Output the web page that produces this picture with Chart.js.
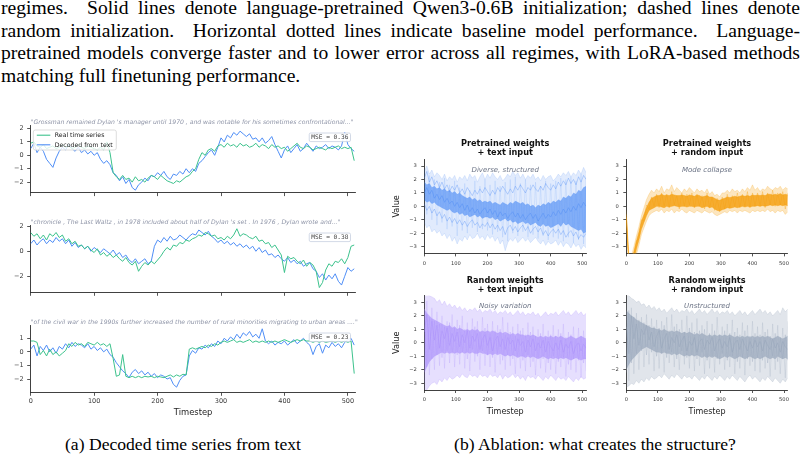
<!DOCTYPE html>
<html><head><meta charset="utf-8">
<script src="https://cdn.jsdelivr.net/npm/chart.js@4/dist/chart.umd.min.js"></script>
<style>
html,body{margin:0;padding:0;background:#fff;}
#fig{position:relative;width:807px;height:460px;overflow:hidden;background:#fff;}
.ln{position:absolute;left:1px;width:799px;font-family:'Liberation Serif',serif;font-size:19.6px;line-height:22.5px;color:#000;white-space:nowrap;}
.j{text-align:justify;text-align-last:justify;white-space:normal;}
.cap{position:absolute;width:320px;text-align:center;font-family:'Liberation Serif',serif;font-size:17.6px;line-height:20px;color:#000;white-space:nowrap;}
canvas{position:absolute;}
</style></head>
<body><div id="fig">
<div class="ln j" style="top:-3px">regimes.&nbsp; Solid lines denote language-pretrained Qwen3-0.6B initialization; dashed lines denote</div>
<div class="ln j" style="top:19.5px">random initialization.&nbsp; Horizontal dotted lines indicate baseline model performance.&nbsp; Language-</div>
<div class="ln j" style="top:42px">pretrained models converge faster and to lower error across all regimes, with LoRA-based methods</div>
<div class="ln" style="top:64.5px">matching full finetuning performance.</div>
<div class="cap" style="left:23px;top:433.5px">(a) Decoded time series from text</div>
<div class="cap" style="left:435px;top:433.5px">(b) Ablation: what creates the structure?</div>
</div>
<script>
// ---------------- DATA ----------------
const STEP_A = 5;   // timestep spacing of the left-panel samples
const STEP_B = 8;   // timestep spacing of the ablation samples
const X_TICKS = [0, 100, 200, 300, 400, 500];
const P1_YTICKS = [-2, -1, 0, 1, 2];
const P2_YTICKS = [-2, 0, 2];
const P3_YTICKS = [-2, -1, 0, 1];
const AB_YTICKS = [-3, -2, -1, 0, 1, 2, 3];

const P1_QUOTE = '"Grossman remained Dylan \'s manager until 1970 , and was notable for his sometimes confrontational..."';
const P2_QUOTE = '"chronicle , The Last Waltz , in 1978 included about half of Dylan \'s set . In 1976 , Dylan wrote and..."';
const P3_QUOTE = '"of the civil war in the 1990s further increased the number of rural minorities migrating to urban areas ...."';
const P1_MSE = 'MSE = 0.36', P2_MSE = 'MSE = 0.38', P3_MSE = 'MSE = 0.23';

const P1_REAL = [0.9,1.0,0.7,0.6,0.8,0.5,0.6,0.7,0.5,0.6,
 0.8,0.6,0.7,0.5,0.6,0.8,0.6,0.5,0.7,0.6,
 0.5,0.4,0.6,0.4,1.0,0.2,-1.3,-1.6,-1.8,-1.5,
 -1.8,-1.7,-2.0,-1.6,-1.9,-1.8,-2.0,-1.7,-1.5,-1.6,
 -1.8,-1.5,-1.7,-1.9,-2.0,-2.1,-1.9,-2.0,-1.8,-1.6,
 -1.5,-1.2,-1.0,-0.3,0.2,0.0,0.4,0.5,0.3,0.7,
 0.8,0.6,0.9,0.7,0.8,0.6,0.9,0.7,0.8,0.6,
 0.7,0.9,0.6,0.8,0.7,0.5,0.8,0.6,0.7,0.5,
 0.6,0.3,0.5,0.7,0.9,0.6,0.5,0.7,0.6,0.4,
 0.5,0.6,0.5,0.4,0.6,0.5,0.6,0.7,0.5,0.6,
 0.5,0.6,-0.4];
const P1_DEC = [0.5,0.9,0.2,0.6,0.3,-0.3,-0.6,-0.9,-0.2,0.3,
 0.6,0.4,0.8,0.5,0.3,0.6,0.2,0.4,0.1,0.3,
 0.0,0.2,-0.3,-0.6,-0.4,-0.7,-1.3,-1.5,-1.9,-1.6,
 -2.1,-1.8,-2.4,-2.6,-2.2,-2.0,-1.7,-1.9,-1.5,-1.6,
 -1.3,-1.5,-1.2,-1.6,-1.8,-1.4,-1.5,-1.2,-1.4,-1.0,
 -1.3,-1.0,-1.2,-0.6,-0.4,-0.1,0.2,0.4,0.0,0.6,
 1.3,1.0,1.5,1.3,1.7,1.5,1.8,1.6,1.4,1.6,
 1.2,1.3,1.0,1.3,0.9,1.1,1.4,0.8,0.3,-0.2,
 0.4,0.7,0.2,0.5,0.8,0.3,0.5,0.9,0.6,0.3,
 0.7,0.5,0.6,0.8,0.5,0.7,0.6,0.4,0.7,1.7,
 0.8,0.5,0.3];
const P2_REAL = [1.5,1.2,1.4,1.0,1.3,0.9,1.4,1.2,1.5,1.1,
 1.3,0.8,1.0,0.6,0.8,0.4,0.5,0.2,0.4,0.1,
 -0.1,0.2,-0.3,-0.1,-0.4,-0.2,-0.5,-0.3,-0.6,-0.8,
 -0.5,-0.9,-1.1,-0.8,-1.6,-1.2,-0.9,-1.1,-0.8,-1.0,
 -0.7,-0.4,0.0,0.3,0.1,0.5,0.4,0.7,0.6,0.9,
 0.8,1.0,1.1,1.3,1.2,1.5,1.4,1.2,1.3,1.0,
 1.1,0.9,1.2,1.0,1.3,1.8,1.2,1.4,1.3,1.1,
 1.0,1.2,0.8,0.9,0.6,0.7,0.3,0.5,0.1,-0.3,
 -1.7,-0.4,-0.6,-0.5,-0.8,-1.0,-0.7,-1.2,-0.9,-1.1,
 -1.6,-2.9,-2.5,-1.5,-1.0,-1.2,-0.8,-0.9,-0.6,-1.0,
 -0.5,0.4,0.5];
const P2_DEC = [0.6,0.9,0.5,0.8,1.0,0.6,0.9,0.7,1.1,0.8,
 1.0,0.6,0.9,0.4,0.7,0.3,0.5,0.2,0.4,0.0,
 0.3,0.1,-0.1,0.2,0.0,-0.2,0.1,-0.3,-0.1,-0.5,
 -0.3,-0.7,-0.9,-0.6,-1.0,-0.8,-0.6,-1.0,-0.8,0.4,
 0.9,0.7,1.1,0.8,1.2,0.9,1.0,1.3,1.1,0.9,
 1.2,1.4,1.3,1.7,1.5,1.3,1.6,1.2,1.0,0.7,
 0.9,0.6,0.8,0.5,0.7,0.4,0.6,0.3,0.5,0.2,
 0.4,0.0,0.3,-0.1,0.1,-0.3,-0.2,-0.5,-0.3,-0.6,
 -0.8,-0.5,-0.9,-0.7,-1.0,-0.8,-1.2,-1.0,-0.9,-1.4,
 -1.6,-2.1,-1.8,-2.3,-1.9,-2.2,-1.8,-2.4,-2.7,-2.0,
 -1.3,-1.6,-1.4];
const P3_REAL = [0.8,0.8,0.7,-0.2,0.1,-0.3,0.2,-0.2,0.0,-0.3,
 -0.1,0.1,0.6,0.4,0.7,0.5,0.6,0.4,0.7,0.6,
 0.5,0.7,0.5,0.6,0.4,0.6,-0.5,-1.8,-1.7,-0.2,
 -1.8,-1.9,-1.8,-1.9,-1.8,-1.9,-1.8,-1.85,-1.8,-1.9,
 -1.8,-1.85,-1.9,-1.8,-1.7,-1.85,-1.7,-1.8,-1.65,-1.7,
 0.2,0.3,0.2,0.3,0.4,0.3,0.5,0.4,0.6,0.5,
 0.7,0.8,0.7,0.8,0.9,0.7,0.8,0.7,0.8,0.9,
 0.7,0.8,0.7,0.8,0.7,0.8,0.7,0.8,0.7,0.8,
 0.9,0.8,0.7,0.8,0.9,0.8,0.9,0.8,0.8,0.7,
 0.8,0.7,0.8,0.7,0.75,0.8,0.7,0.8,0.7,0.8,
 0.7,0.8,-1.6];
const P3_DEC = [0.2,0.5,-0.3,0.4,0.1,0.5,0.0,0.3,-0.1,0.4,
 0.2,0.6,0.3,0.7,0.4,0.6,0.5,0.3,0.6,0.2,
 0.4,0.1,0.3,0.0,0.2,-0.2,-0.4,-0.8,-1.1,-1.4,
 -1.6,-1.9,-1.5,-1.3,-1.6,-1.4,-1.7,-1.5,-1.8,-1.6,
 -1.9,-1.7,-1.8,-2.0,-1.9,-2.4,-2.6,-2.1,-1.8,-1.7,
 -0.3,0.1,-0.1,0.3,0.2,0.5,0.3,0.6,0.4,0.8,
 0.6,1.0,0.8,1.1,0.9,1.3,1.0,1.4,1.2,1.5,
 1.1,1.3,1.0,1.7,0.8,0.6,0.8,0.5,0.7,0.6,
 0.8,0.5,0.7,0.9,0.6,0.8,1.0,0.7,0.5,-0.2,
 0.4,0.6,-0.1,0.5,0.3,0.7,0.4,0.6,0.3,0.7,
 0.9,1.0,0.5];

// Ablation panels: envelope (outer), dense core, and a few single trajectories
const PT_OUT_HI = [2.6,3.0,2.4,2.7,2.2,2.5,2.3,2.0,2.4,1.9,2.2,2.0,2.3,
 1.8,2.2,2.0,2.3,1.9,2.4,2.1,2.3,1.8,2.2,2.5,2.0,2.4,
 2.1,2.5,2.2,2.0,2.3,1.9,2.1,2.4,2.2,2.6,2.3,2.5,2.1,
 2.4,2.0,2.3,2.1,2.4,2.0,2.2,1.9,2.3,2.0,2.2,2.3,1.9,
 2.1,2.4,2.2,2.5,2.3,2.6,2.2,2.5,2.3,2.7,2.4,2.9,2.5];
const PT_OUT_LO = [-1.2,-1.6,-1.4,-1.9,-1.7,-2.0,-1.8,-2.2,-2.0,-2.4,-2.1,-2.6,-2.3,
 -2.8,-2.4,-2.6,-2.2,-2.5,-2.1,-2.4,-2.3,-2.0,-2.4,-2.2,-2.5,-2.1,
 -2.4,-2.2,-2.6,-2.3,-2.8,-2.5,-3.3,-2.7,-2.4,-2.6,-2.3,-2.7,-2.5,
 -2.3,-2.6,-2.4,-2.7,-2.5,-2.3,-2.6,-2.8,-2.5,-2.9,-2.6,-2.8,-2.7,
 -2.5,-2.9,-2.6,-3.0,-2.7,-2.8,-3.1,-2.7,-3.0,-2.8,-3.2,-2.9,-3.1];
const PT_CORE_HI = [1.8,1.6,1.7,1.4,1.5,1.3,1.4,1.2,1.3,1.1,1.2,1.0,1.1,
 0.9,1.0,0.8,0.7,0.6,0.7,0.5,0.6,0.4,0.5,0.3,0.4,0.3,
 0.4,0.2,0.3,0.2,0.1,0.3,0.2,0.1,0.3,0.2,0.4,0.3,0.2,
 0.3,0.1,0.2,0.0,0.1,-0.1,0.1,0.0,0.2,0.1,0.3,0.2,0.4,
 0.3,0.5,0.4,0.7,0.6,0.8,0.7,1.0,0.9,1.2,1.1,1.4,1.5];
const PT_CORE_LO = [0.5,0.3,0.4,0.2,0.3,0.1,0.0,-0.1,-0.2,-0.3,-0.2,-0.4,-0.5,
 -0.4,-0.6,-0.5,-0.7,-0.6,-0.8,-0.7,-0.6,-0.8,-0.7,-0.9,-0.8,-0.8,
 -0.9,-0.8,-1.0,-0.9,-1.1,-1.0,-0.9,-1.1,-1.0,-1.2,-1.1,-1.3,-1.2,
 -1.1,-1.3,-1.2,-1.4,-1.3,-1.2,-1.4,-1.5,-1.3,-1.5,-1.4,-1.6,-1.5,
 -1.4,-1.3,-1.5,-1.2,-1.4,-1.3,-1.5,-1.6,-1.7,-1.8,-1.7,-2.0,-1.9];
const PT_LINE_A = [2.1,2.6,1.8,2.2,1.6,1.9,1.4,1.8,1.3,1.6,1.1,1.5,1.2,
 1.6,1.0,1.3,0.9,1.4,1.1,0.8,1.2,0.9,1.3,1.0,1.4,1.1,
 0.8,1.2,0.9,1.4,1.1,1.5,1.2,0.9,1.3,1.0,1.5,1.2,1.6,
 1.3,1.0,1.4,1.2,1.6,1.3,1.1,1.5,1.2,1.7,1.4,1.2,1.6,
 1.3,1.8,1.5,1.9,1.6,2.1,1.7,2.0,1.6,2.2,1.8,2.3,2.0];
const PT_LINE_B = [1.0,1.4,0.9,1.2,0.6,0.9,0.5,0.8,0.3,0.6,0.2,0.4,0.0,
 0.3,-0.1,0.2,-0.3,0.1,-0.4,-0.1,-0.5,-0.2,-0.6,-0.3,-0.1,-0.5,
 -0.2,-0.6,-0.3,-0.8,-0.4,-0.7,-0.5,-0.9,-0.6,-0.4,-0.8,-0.5,-0.9,
 -0.6,-1.0,-0.7,-0.5,-0.9,-0.6,-1.1,-0.8,-0.5,-0.9,-0.6,-0.8,-0.4,
 -0.7,-0.3,-0.6,-0.2,-0.5,-0.1,-0.4,0.0,-0.3,0.2,-0.1,0.3,0.0];
const PT_LINE_C = [0.2,-0.3,0.0,-0.5,-0.2,-0.7,-0.4,-0.9,-0.6,-1.1,-0.8,-1.2,-0.9,
 -1.3,-1.0,-1.4,-1.1,-1.5,-1.2,-1.0,-1.4,-1.2,-1.6,-1.3,-1.5,-1.2,
 -1.6,-1.3,-1.7,-1.4,-1.8,-1.5,-2.1,-1.6,-1.4,-1.8,-1.5,-1.9,-1.6,
 -1.4,-1.8,-1.5,-2.0,-1.7,-1.5,-1.9,-1.6,-2.1,-1.8,-2.2,-1.9,-1.7,
 -2.0,-1.7,-2.1,-1.8,-2.3,-2.0,-1.8,-2.2,-1.9,-2.4,-2.1,-2.3,-2.0];
const PT_LINE_D = [2.8,-0.6,2.3,-1.0,2.0,-1.4,1.8,-1.2,2.1,-1.7,1.6,-1.5,1.9,
 -2.2,1.4,-1.8,1.7,-2.0,1.2,-1.6,1.9,-1.9,1.5,-1.7,2.0,-1.8,
 1.6,-2.1,1.9,-1.9,1.5,-2.3,1.8,-2.6,2.0,-2.0,2.2,-2.2,1.7,
 -1.9,2.0,-2.3,1.6,-2.1,1.8,-2.4,1.5,-2.2,1.9,-2.5,1.7,-2.3,
 1.9,-2.4,2.1,-2.6,2.0,-2.3,2.2,-2.7,1.9,-2.5,2.4,-2.8,2.2];

const PR_OUT_HI = [-0.3,-3.6,-3.7,-3.0,-2.2,-1.5,-0.7,-0.1,0.5,0.9,1.2,1.0,1.3,
 1.1,1.5,1.0,1.3,1.2,1.6,1.1,1.4,1.2,1.0,1.3,1.1,1.4,
 1.2,1.0,1.3,1.1,1.2,1.0,1.3,0.9,1.1,0.8,0.9,0.7,1.0,
 1.0,1.2,1.0,1.3,1.1,1.2,1.0,1.3,1.1,1.4,1.2,1.6,1.2,
 1.4,1.1,1.3,1.2,1.5,1.3,1.2,1.4,1.3,1.5,1.2,1.4,1.3];
const PR_OUT_LO = [-1.0,-4.5,-4.5,-4.3,-3.6,-2.9,-2.1,-1.6,-1.1,-0.7,-0.5,-0.4,-0.3,
 -0.4,-0.2,-0.5,-0.3,-0.4,-0.2,-0.5,-0.3,-0.4,-0.2,-0.4,-0.5,-0.3,
 -0.4,-0.5,-0.3,-0.4,-0.5,-0.3,-0.4,-0.5,-0.4,-0.6,-0.7,-0.6,-0.5,
 -0.4,-0.5,-0.3,-0.4,-0.3,-0.5,-0.3,-0.4,-0.3,-0.4,-0.5,-0.3,-0.4,
 -0.3,-0.4,-0.3,-0.4,-0.2,-0.4,-0.3,-0.5,-0.3,-0.4,-0.3,-0.6,-0.4];
const PR_CORE_HI = [-0.6,-3.9,-4.0,-3.4,-2.6,-1.9,-1.1,-0.6,-0.1,0.3,0.6,0.7,0.8,
 0.8,0.9,0.8,0.85,0.8,0.9,0.85,0.8,0.8,0.85,0.8,0.75,0.85,
 0.8,0.75,0.85,0.8,0.7,0.75,0.8,0.7,0.7,0.6,0.5,0.45,0.55,
 0.6,0.7,0.65,0.7,0.75,0.7,0.75,0.8,0.75,0.8,0.75,0.85,0.8,
 0.85,0.8,0.85,0.8,0.9,0.9,0.85,0.9,0.85,0.95,0.85,0.9,0.85];
const PR_CORE_LO = [-0.9,-4.4,-4.4,-4.0,-3.2,-2.5,-1.7,-1.2,-0.7,-0.3,-0.2,-0.1,0.0,
 0.0,-0.05,-0.1,0.0,-0.05,0.0,0.05,0.0,-0.05,0.0,0.0,-0.05,0.0,
 0.0,-0.05,0.0,0.0,-0.1,-0.05,0.0,-0.1,-0.05,-0.2,-0.3,-0.35,-0.25,
 -0.2,-0.1,-0.15,-0.1,-0.05,-0.1,-0.05,0.0,-0.05,0.0,-0.05,0.0,0.0,
 0.05,0.0,0.05,0.0,0.05,0.1,0.05,0.1,0.05,0.1,0.05,0.1,0.05];
const PR_LINE = [-0.8,-4.0,-4.2,-3.5,-2.6,-2.4,-1.0,-1.1,0.1,-0.2,0.7,0.0,0.9,
 -0.1,1.0,0.0,0.9,-0.1,1.1,0.1,0.8,-0.2,1.0,0.0,0.9,0.1,
 1.0,-0.1,0.9,0.0,0.8,-0.2,1.0,-0.1,0.7,-0.3,0.6,-0.4,0.7,
 -0.2,0.9,-0.1,0.8,0.0,1.0,-0.1,0.9,0.0,1.1,-0.1,1.0,0.0,
 1.0,0.0,1.1,-0.1,1.0,0.1,1.2,0.0,1.0,0.1,1.1,-0.2,1.0];

const RT_OUT_HI = [3.6,3.6,3.5,3.4,3.3,3.0,3.2,2.8,3.1,2.7,2.9,2.6,2.8,
 2.5,2.7,2.4,2.6,2.3,2.5,2.4,2.6,2.3,2.5,2.2,2.4,2.3,
 2.5,2.2,2.4,2.1,2.3,2.2,2.4,2.1,2.3,2.0,2.2,2.4,2.1,
 2.3,2.0,2.2,2.1,2.3,2.0,2.2,1.9,2.1,2.3,2.0,2.2,2.1,
 2.3,2.0,2.2,2.4,2.1,2.3,2.0,2.2,2.4,2.1,2.3,2.0,2.2];
const RT_OUT_LO = [-3.6,-3.5,-3.2,-3.0,-2.9,-3.1,-2.7,-2.9,-2.6,-2.8,-2.5,-2.7,-2.6,
 -2.4,-2.6,-2.3,-2.5,-2.6,-2.3,-2.5,-2.4,-2.6,-2.3,-2.5,-2.4,-2.6,
 -2.3,-2.5,-2.4,-2.6,-2.3,-2.7,-2.4,-2.6,-2.5,-2.3,-2.6,-2.4,-2.7,
 -2.5,-2.8,-2.4,-2.6,-2.5,-2.7,-2.4,-2.6,-2.8,-2.5,-2.7,-2.4,-2.6,
 -2.8,-2.5,-2.7,-2.6,-2.8,-2.5,-2.7,-2.9,-2.6,-2.8,-2.5,-2.7,-2.6];
const RT_CORE_HI = [2.5,2.2,2.0,1.8,1.7,1.6,1.5,1.4,1.3,1.2,1.3,1.1,1.2,
 1.0,1.1,1.0,0.9,1.0,0.9,1.0,0.9,1.0,0.8,0.9,0.8,0.9,
 0.8,0.9,0.8,0.7,0.8,0.7,0.8,0.7,0.6,0.7,0.6,0.7,0.6,
 0.6,0.5,0.6,0.5,0.6,0.5,0.4,0.5,0.4,0.5,0.4,0.5,0.4,
 0.5,0.4,0.5,0.4,0.3,0.4,0.5,0.4,0.3,0.4,0.5,0.4,0.3];
const RT_CORE_LO = [-2.2,-1.8,-1.4,-1.2,-1.0,-0.9,-0.8,-0.7,-0.8,-0.7,-0.8,-0.7,-0.8,
 -0.7,-0.8,-0.7,-0.8,-0.7,-0.8,-0.7,-0.8,-0.8,-0.7,-0.8,-0.8,-0.9,
 -0.8,-0.9,-0.8,-0.9,-0.8,-0.9,-1.0,-0.9,-1.0,-0.9,-1.0,-1.1,-1.0,
 -1.0,-1.1,-1.0,-1.1,-1.0,-1.1,-1.2,-1.1,-1.0,-1.1,-1.2,-1.1,-1.2,
 -1.1,-1.2,-1.1,-1.2,-1.1,-1.2,-1.3,-1.2,-1.1,-1.2,-1.3,-1.2,-1.2];
const RT_LINE = [0.8,2.1,-0.5,1.6,0.2,1.3,-0.4,0.9,0.3,1.1,-0.2,0.7,0.1,
 0.8,-0.3,0.6,0.0,0.9,-0.4,0.5,0.1,0.7,-0.5,0.3,0.6,-0.2,
 0.4,-0.6,0.2,0.5,-0.3,0.3,-0.5,0.4,-0.1,0.2,-0.6,0.3,-0.2,
 0.1,-0.7,0.2,-0.3,0.3,-0.6,0.0,-0.4,0.2,-0.7,0.1,-0.3,-0.6,
 0.0,-0.5,0.2,-0.7,-0.1,-0.4,0.1,-0.8,-0.2,0.0,-0.6,-0.1,-0.4];
const RT_LINE2 = [2.5,-1.8,1.9,-1.2,1.6,-0.9,1.4,-1.1,1.2,-0.6,1.5,-0.8,1.1,
 -0.9,1.3,-0.7,1.0,-1.2,0.9,-0.5,1.2,-1.0,0.8,-0.6,1.1,-0.9,
 0.7,-1.1,0.9,-0.8,1.0,-1.3,0.6,-0.9,0.8,-1.2,0.5,-1.0,0.9,
 -1.3,0.6,-0.9,0.8,-1.4,0.5,-1.1,0.7,-1.2,0.4,-1.5,0.6,-1.0,
 0.5,-1.4,0.7,-1.1,0.4,-1.6,0.6,-1.2,0.3,-1.3,0.5,-1.5,0.2];
const RT_LINE3 = [-2.9,3.1,-2.4,2.6,-2.0,2.3,-1.7,2.0,-1.9,1.6,-1.5,2.1,-1.8,
 1.7,-1.6,2.0,-1.9,1.5,-2.1,1.8,-1.4,1.6,-2.0,1.9,-1.7,1.4,
 -1.8,1.6,-2.2,1.3,-1.6,1.9,-2.0,1.5,-1.7,1.2,-2.3,1.4,-1.9,
 1.1,-2.1,1.5,-1.8,1.2,-2.4,1.0,-1.9,1.4,-2.2,0.9,-2.0,1.3,
 -2.3,1.0,-1.8,1.4,-2.5,0.8,-2.0,1.2,-2.2,1.1,-2.6,0.9,-2.1];

const RR_OUT_HI = [3.5,3.5,3.3,3.2,3.0,3.1,2.8,2.9,2.6,2.8,2.5,2.7,2.4,
 2.6,2.3,2.5,2.2,2.4,2.6,2.3,2.5,2.2,2.4,2.3,2.5,2.2,
 2.4,2.1,2.3,2.5,2.2,2.4,2.1,2.3,2.5,2.2,2.4,2.1,2.3,
 2.2,2.4,2.1,2.3,2.0,2.2,2.4,2.1,2.3,2.0,2.2,2.4,2.1,
 2.3,2.5,2.2,2.4,2.1,2.3,2.0,2.2,2.4,2.1,2.6,2.3,2.5];
const RR_OUT_LO = [-3.3,-3.2,-3.0,-3.1,-2.8,-3.0,-2.7,-2.9,-2.6,-2.8,-2.5,-2.7,-2.6,
 -2.4,-2.6,-2.3,-2.5,-2.7,-2.4,-2.6,-2.3,-2.5,-2.7,-2.4,-2.6,-2.5,
 -2.7,-2.4,-2.6,-2.8,-2.5,-2.7,-2.4,-2.6,-2.8,-2.5,-2.7,-2.4,-2.6,
 -2.8,-2.5,-2.7,-2.4,-2.6,-2.8,-2.5,-2.7,-2.9,-2.6,-2.4,-2.7,-2.5,
 -2.7,-2.9,-2.6,-2.8,-2.5,-2.7,-2.9,-2.6,-2.8,-3.0,-2.7,-2.9,-2.6];
const RR_CORE_HI = [2.4,2.2,2.0,1.9,1.7,1.6,1.5,1.4,1.3,1.2,1.1,1.1,1.0,
 1.0,0.9,1.0,0.9,0.8,0.9,0.8,0.9,0.8,0.7,0.8,0.7,0.8,
 0.7,0.6,0.7,0.6,0.7,0.6,0.5,0.6,0.5,0.6,0.5,0.6,0.5,
 0.6,0.5,0.6,0.5,0.4,0.5,0.4,0.5,0.4,0.5,0.4,0.5,0.4,
 0.5,0.4,0.5,0.4,0.5,0.4,0.3,0.4,0.5,0.4,0.3,0.4,0.5];
const RR_CORE_LO = [-2.0,-1.6,-1.3,-1.1,-0.9,-0.7,-0.5,-0.4,-0.3,-0.4,-0.5,-0.6,-0.7,
 -0.7,-0.8,-0.7,-0.8,-0.8,-0.9,-0.8,-0.9,-0.8,-0.9,-1.0,-0.9,-1.0,
 -0.9,-1.0,-0.9,-1.0,-1.1,-1.0,-1.1,-1.0,-1.1,-1.0,-1.1,-1.2,-1.1,
 -1.0,-1.1,-1.0,-1.1,-1.2,-1.1,-1.0,-1.1,-1.2,-1.1,-1.0,-1.1,-1.2,
 -1.1,-1.2,-1.1,-1.0,-1.1,-1.2,-1.1,-1.2,-1.0,-1.1,-1.2,-1.1,-1.2];
const RR_LINE = [1.2,-0.8,2.0,0.3,1.4,-0.2,1.0,0.6,1.3,0.2,0.8,-0.3,0.5,
 0.9,-0.4,0.3,0.7,-0.5,0.4,0.0,0.6,-0.3,0.2,0.5,-0.6,0.1,
 -0.2,0.4,-0.7,0.1,0.3,-0.5,0.2,-0.1,0.4,-0.6,0.0,0.3,-0.4,
 0.1,-0.3,0.4,-0.7,0.0,0.2,-0.5,0.3,-0.2,-0.6,0.1,-0.4,0.2,
 -0.3,0.1,-0.6,0.2,-0.2,-0.5,0.3,-0.4,0.0,-0.7,0.1,-0.3,-0.5];
const RR_LINE2 = [-2.2,2.4,-1.5,1.9,-0.8,1.7,-0.6,1.5,-0.9,1.3,-0.7,1.2,-1.0,
 1.1,-0.8,1.3,-1.1,0.9,-0.7,1.2,-1.2,1.0,-0.6,0.8,-1.1,1.1,
 -0.9,0.8,-1.2,0.9,-0.7,1.0,-1.3,0.7,-1.0,0.9,-1.2,0.6,-0.8,
 0.9,-1.3,0.7,-1.0,0.8,-1.4,0.6,-1.1,0.9,-1.2,0.5,-1.4,0.7,
 -1.1,0.6,-1.3,0.8,-1.5,0.5,-1.0,0.7,-1.4,0.4,-1.2,0.6,-1.3];
const RR_LINE3 = [3.0,-2.8,2.6,-2.3,2.2,-2.0,1.9,-1.8,2.1,-1.6,1.8,-2.1,1.7,
 -1.9,1.6,-2.2,1.9,-1.5,2.1,-1.8,1.4,-2.0,1.7,-1.6,2.0,-1.9,
 1.5,-2.1,1.8,-1.7,1.3,-2.3,1.6,-1.9,1.4,-2.2,1.9,-1.6,1.2,
 -2.0,1.4,-1.8,1.7,-2.3,1.1,-1.9,1.5,-2.4,1.3,-1.7,1.6,-2.1,
 1.2,-2.2,1.5,-1.9,1.0,-2.5,1.4,-2.0,1.3,-2.3,1.1,-2.6,1.6];

// ---------------- STYLE / LAYOUT ----------------
const GREEN = '#3cc28c', BLUE = '#4f8ef6';
const AX = '#2b2b2b', TX = '#3a3a3a';
const FIG = document.getElementById('fig');

function pts(arr, step) { return arr.map((v, i) => ({x: i * step, y: v})); }
function fmt(v) { return v < 0 ? '\u2212' + (-v) : String(v); }
function canvasAt(box) {
  const c = document.createElement('canvas');
  c.width = box.w; c.height = box.h;
  c.style.left = box.l + 'px'; c.style.top = box.t + 'px';
  c.style.width = box.w + 'px'; c.style.height = box.h + 'px';
  FIG.appendChild(c); return c;
}

const decor = {
  id: 'decor',
  afterDraw(chart, args, o) {
    const ctx = chart.ctx, a = chart.chartArea;
    const cx = (a.left + a.right) / 2;
    ctx.save();
    ctx.textBaseline = 'middle';
    if (o.title) {
      ctx.font = 'bold 8.2px "DejaVu Sans"'; ctx.fillStyle = '#111'; ctx.textAlign = 'center';
      ctx.fillText(o.title[0], cx, a.top - 15.1);
      ctx.fillText(o.title[1], cx, a.top - 6.2);
    }
    if (o.note) {
      ctx.font = 'italic 7px "DejaVu Sans"'; ctx.fillStyle = '#6b7385'; ctx.textAlign = 'center';
      ctx.fillText(o.note, cx, a.top + 10.6);
    }
    if (o.ytitle) {
      ctx.save(); ctx.translate(a.left - 27, (a.top + a.bottom) / 2); ctx.rotate(-Math.PI / 2);
      ctx.font = '8.2px "DejaVu Sans"'; ctx.fillStyle = '#222'; ctx.textAlign = 'center';
      ctx.fillText(o.ytitle, 0, 0); ctx.restore();
    }
    if (o.xtitle) {
      ctx.font = o.xsize + 'px "DejaVu Sans"'; ctx.fillStyle = '#222'; ctx.textAlign = 'center';
      ctx.fillText(o.xtitle, cx, a.bottom + o.xoff);
    }
    if (o.quote) {
      ctx.font = 'italic 6.1px "DejaVu Sans"'; ctx.fillStyle = '#8d93a6'; ctx.textAlign = 'left';
      ctx.fillText(o.quote, a.left, a.top - 3);
    }
    if (o.mse) {
      ctx.font = '6.2px "DejaVu Sans Mono"';
      const w = ctx.measureText(o.mse).width + 4, h = 8.6;
      const x = a.right - 5 - w, y = a.top + 8;
      ctx.beginPath(); ctx.roundRect(x, y, w, h, 1.5);
      ctx.fillStyle = 'rgba(255,255,255,0.9)'; ctx.fill();
      ctx.strokeStyle = '#c6cfdf'; ctx.lineWidth = 0.8; ctx.stroke();
      ctx.fillStyle = '#444'; ctx.textAlign = 'center';
      ctx.fillText(o.mse, x + w / 2, y + h / 2 + 0.3);
    }
    if (o.legend) {
      const x = a.left + 2.6, y = a.top + 5, w = 83, h = 20;
      ctx.beginPath(); ctx.roundRect(x, y, w, h, 2);
      ctx.fillStyle = 'rgba(255,255,255,0.8)'; ctx.fill();
      ctx.strokeStyle = '#d4d4d4'; ctx.lineWidth = 0.8; ctx.stroke();
      ctx.font = '6.2px "DejaVu Sans"'; ctx.textAlign = 'left';
      o.legend.forEach((it, i) => {
        const yy = y + 5.2 + i * 9.6;
        ctx.strokeStyle = it.color; ctx.lineWidth = 1.1;
        ctx.beginPath(); ctx.moveTo(x + 3.5, yy); ctx.lineTo(x + 17, yy); ctx.stroke();
        ctx.fillStyle = '#222'; ctx.fillText(it.label, x + 21.5, yy + 0.3);
      });
    }
    ctx.restore();
  }
};

function makeChart(box, area, datasets, o) {
  const c = canvasAt(box);
  const grid = {display: true, drawOnChartArea: false, drawTicks: true, tickLength: o.tl, color: AX, tickColor: AX, lineWidth: 0.8};
  return new Chart(c, {
    type: 'line',
    data: {datasets},
    plugins: [decor],
    options: {
      responsive: false, animation: false, devicePixelRatio: 1,
      layout: {padding: {left: 0, top: area.t - box.t, right: box.l + box.w - area.r, bottom: 0}},
      elements: {point: {radius: 0}, line: {tension: 0}},
      plugins: {legend: {display: false}, tooltip: {enabled: false}, decor: o.decor},
      scales: {
        x: {type: 'linear', min: 0, max: 512,
            afterBuildTicks: s => { s.ticks = X_TICKS.map(v => ({value: v})); },
            afterFit: s => { s.height = box.t + box.h - area.b; },
            grid, border: {display: true, color: AX, width: 0.9},
            ticks: {display: o.xlab, autoSkip: false, maxRotation: 0, padding: o.xpad, color: TX,
                    font: {family: 'DejaVu Sans', size: o.fs}, callback: v => fmt(v)}},
        y: {type: 'linear', min: o.ymin, max: o.ymax,
            afterBuildTicks: s => { s.ticks = o.yt.map(v => ({value: v})); },
            afterFit: s => { s.width = area.l - box.l; },
            grid, border: {display: true, color: AX, width: 0.9},
            ticks: {autoSkip: false, padding: o.ypad, color: TX,
                    font: {family: 'DejaVu Sans', size: o.fs}, callback: v => fmt(v)}}
      }
    }
  });
}

function seriesPair(real, dec) {
  return [
    {data: pts(real, STEP_A), borderColor: GREEN, borderWidth: 1.0, fill: false},
    {data: pts(dec, STEP_A), borderColor: BLUE, borderWidth: 1.0, fill: false}
  ];
}
function band(hi, lo, rgb, fillA, lineA) {
  return [
    {data: pts(hi, STEP_B), borderColor: `rgba(${rgb},${lineA})`, borderWidth: 0.7, backgroundColor: `rgba(${rgb},${fillA})`, fill: '+1'},
    {data: pts(lo, STEP_B), borderColor: `rgba(${rgb},${lineA})`, borderWidth: 0.7, fill: false}
  ];
}
function traj(arr, rgb, a, w) {
  return {data: pts(arr, STEP_B), borderColor: `rgba(${rgb},${a})`, borderWidth: w || 0.8, fill: false};
}

// ---------------- LEFT: decoded series ----------------
const leftOpt = (ymin, ymax, yt, xlab, decorOpt) => ({ymin, ymax, yt, xlab, fs: 6.5, tl: 3.5, xpad: 2, ypad: 3.5, decor: decorOpt});
makeChart({l: 0, t: 112, w: 372, h: 88}, {l: 30.7, t: 125, r: 355.5, b: 192.7},
  seriesPair(P1_REAL, P1_DEC),
  leftOpt(-2.78, 2.26, P1_YTICKS, false, {quote: P1_QUOTE, mse: P1_MSE,
    legend: [{label: 'Real time series', color: GREEN}, {label: 'Decoded from text', color: BLUE}]}));
makeChart({l: 0, t: 212, w: 372, h: 88}, {l: 30.7, t: 225, r: 355.5, b: 292.3},
  seriesPair(P2_REAL, P2_DEC),
  leftOpt(-3.28, 2.1, P2_YTICKS, false, {quote: P2_QUOTE, mse: P2_MSE}));
makeChart({l: 0, t: 312, w: 372, h: 110}, {l: 30.7, t: 325, r: 355.5, b: 392.3},
  seriesPair(P3_REAL, P3_DEC),
  leftOpt(-2.98, 1.98, P3_YTICKS, true, {quote: P3_QUOTE, mse: P3_MSE, xtitle: 'Timestep', xsize: 8.4, xoff: 21}));

// ---------------- RIGHT: ablation ----------------
const abOpt = (decorOpt) => ({ymin: -3.5, ymax: 3.5, yt: AB_YTICKS, xlab: true, fs: 5.2, tl: 3, xpad: 4, ypad: 4.5, decor: decorOpt});
const C_BLUE = '66,133,244', C_ORANGE = '245,158,11', C_PURPLE = '167,139,250', C_GREY = '148,163,184';
makeChart({l: 386, t: 132, w: 208, h: 140}, {l: 424.3, t: 159.3, r: 586.1, b: 253.4},
  [...band(PT_OUT_HI, PT_OUT_LO, C_BLUE, 0.16, 0.2), traj(PT_LINE_D, C_BLUE, 0.18, 0.7),
   ...band(PT_CORE_HI, PT_CORE_LO, C_BLUE, 0.6, 0.3),
   traj(PT_LINE_A, C_BLUE, 0.4), traj(PT_LINE_B, C_BLUE, 0.45), traj(PT_LINE_C, C_BLUE, 0.4)],
  abOpt({title: ['Pretrained weights', '+ text input'], note: 'Diverse, structured', ytitle: 'Value'}));
makeChart({l: 596, t: 132, w: 204, h: 140}, {l: 626.3, t: 159.3, r: 787.8, b: 253.4},
  [...band(PR_OUT_HI, PR_OUT_LO, C_ORANGE, 0.26, 0.3), ...band(PR_CORE_HI, PR_CORE_LO, C_ORANGE, 0.8, 0.6),
   traj(PR_LINE, C_ORANGE, 0.45, 0.7)],
  abOpt({title: ['Pretrained weights', '+ random input'], note: 'Mode collapse'}));
makeChart({l: 386, t: 272, w: 208, h: 150}, {l: 424.3, t: 295.6, r: 586.1, b: 390},
  [...band(RT_OUT_HI, RT_OUT_LO, C_PURPLE, 0.28, 0.3), traj(RT_LINE3, C_PURPLE, 0.28, 0.7),
   ...band(RT_CORE_HI, RT_CORE_LO, C_PURPLE, 0.6, 0.3),
   traj(RT_LINE2, C_PURPLE, 0.35, 0.7), traj(RT_LINE, C_PURPLE, 0.45)],
  abOpt({title: ['Random weights', '+ text input'], note: 'Noisy variation', ytitle: 'Value', xtitle: 'Timestep', xsize: 8, xoff: 21.7}));
makeChart({l: 596, t: 272, w: 204, h: 150}, {l: 626.3, t: 295.6, r: 787.8, b: 390},
  [...band(RR_OUT_HI, RR_OUT_LO, C_GREY, 0.28, 0.3), traj(RR_LINE3, C_GREY, 0.3, 0.7),
   ...band(RR_CORE_HI, RR_CORE_LO, C_GREY, 0.65, 0.3),
   traj(RR_LINE2, C_GREY, 0.4, 0.7), traj(RR_LINE, C_GREY, 0.5)],
  abOpt({title: ['Random weights', '+ random input'], note: 'Unstructured', xtitle: 'Timestep', xsize: 8, xoff: 21.7}));
</script>
</body></html>
